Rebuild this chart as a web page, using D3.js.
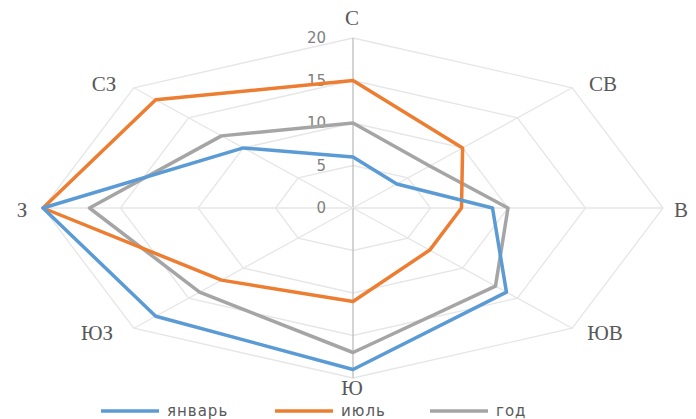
<!DOCTYPE html>
<html>
<head>
<meta charset="utf-8">
<script src="https://cdn.jsdelivr.net/npm/d3@7"></script>
<style>
  html, body { margin: 0; padding: 0; background: #fff; }
  svg { display: block; }
</style>
</head>
<body>
<svg id="chart" width="696" height="419"></svg>
<script>
// Wind directions, clockwise from north
const directions = ["С", "СВ", "В", "ЮВ", "Ю", "ЮЗ", "З", "СЗ"];
// Frequency of winds per direction
const january = [6, 4, 9, 14, 19, 18, 20, 10];
const july    = [15, 10, 7, 7, 11, 12, 20, 18];
const year    = [10, 7, 10, 13, 17, 14, 17, 12];
const tickValues = [0, 5, 10, 15, 20];
const seriesNames = ["январь", "июль", "год"];
const seriesColors = ["#5b9bd5", "#ed7d31", "#a5a5a5"];

const svg = d3.select("#chart");
const cx = 353, cy = 208;

// The plot is stretched horizontally, so x and y radii differ
const rx = d3.scaleLinear().domain([0, 20]).range([0, 310]);
const ry = d3.scaleLinear().domain([0, 20]).range([0, 170]);
const ang = i => i * 2 * Math.PI / directions.length;

const px = (v, i) => cx + rx(v) * Math.sin(ang(i));
const py = (v, i) => cy - ry(v) * Math.cos(ang(i));

// Grid rings
const gGrid = svg.append("g");
tickValues.filter(t => t > 0).forEach(t => {
  const pts = directions.map((d, i) => [px(t, i), py(t, i)]);
  gGrid.append("path")
    .attr("d", d3.line()(pts) + "Z")
    .attr("fill", "none")
    .attr("stroke", "#e6e6e6")
    .attr("stroke-width", 1.3);
});
// Spokes
directions.forEach((d, i) => {
  gGrid.append("line")
    .attr("x1", cx).attr("y1", cy)
    .attr("x2", px(20, i)).attr("y2", py(20, i))
    .attr("stroke", i === 0 || i === 4 ? "#bdbdbd" : "#e6e6e6")
    .attr("stroke-width", 1.3);
});

// Value axis labels
const yAxis = d3.scaleLinear().domain([0, 20]).range([cy, cy - 170]);
svg.append("g").selectAll("text").data(tickValues).join("text")
  .attr("x", cx - 27)
  .attr("y", d => yAxis(d))
  .attr("dy", "0.35em")
  .attr("text-anchor", "end")
  .attr("font-family", "'DejaVu Sans', sans-serif")
  .attr("font-size", 15)
  .attr("fill", "#7f7f7f")
  .text(d => d);

// Direction labels
const labelPos = [
  [352, 18, "middle"], [603, 84, "middle"], [674, 210, "start"], [605, 333, "middle"],
  [352, 388, "middle"], [97, 333, "middle"], [22, 210, "middle"], [104, 84, "middle"]
];
svg.append("g").selectAll("text").data(directions).join("text")
  .attr("x", (d, i) => labelPos[i][0])
  .attr("y", (d, i) => labelPos[i][1])
  .attr("dy", "0.35em")
  .attr("text-anchor", (d, i) => labelPos[i][2])
  .attr("font-family", "'Liberation Serif', 'DejaVu Serif', serif")
  .attr("font-size", 21)
  .attr("fill", "#595959")
  .text(d => d);

// Series
const series = [january, july, year];
const line = d3.line().x(d => d[0]).y(d => d[1]).curve(d3.curveLinearClosed);
// Draw gray first, then orange, then blue on top
[2, 1, 0].forEach(k => {
  const pts = series[k].map((v, i) => [px(v, i), py(v, i)]);
  svg.append("path")
    .attr("d", line(pts))
    .attr("fill", "none")
    .attr("stroke", seriesColors[k])
    .attr("stroke-width", 3.5)
    .attr("stroke-linejoin", "round");
});

// Legend
const legendX = [101, 275, 430];
const legend = svg.append("g");
seriesNames.forEach((name, k) => {
  legend.append("line")
    .attr("x1", legendX[k]).attr("x2", legendX[k] + 58)
    .attr("y1", 411).attr("y2", 411)
    .attr("stroke", seriesColors[k])
    .attr("stroke-width", 3.5);
  legend.append("text")
    .attr("x", legendX[k] + 66)
    .attr("y", 411)
    .attr("dy", "0.35em")
    .attr("font-family", "'DejaVu Sans', sans-serif")
    .attr("font-size", 15)
    .attr("fill", "#595959")
    .attr("letter-spacing", 1)
    .text(name);
});
</script>
</body>
</html>
